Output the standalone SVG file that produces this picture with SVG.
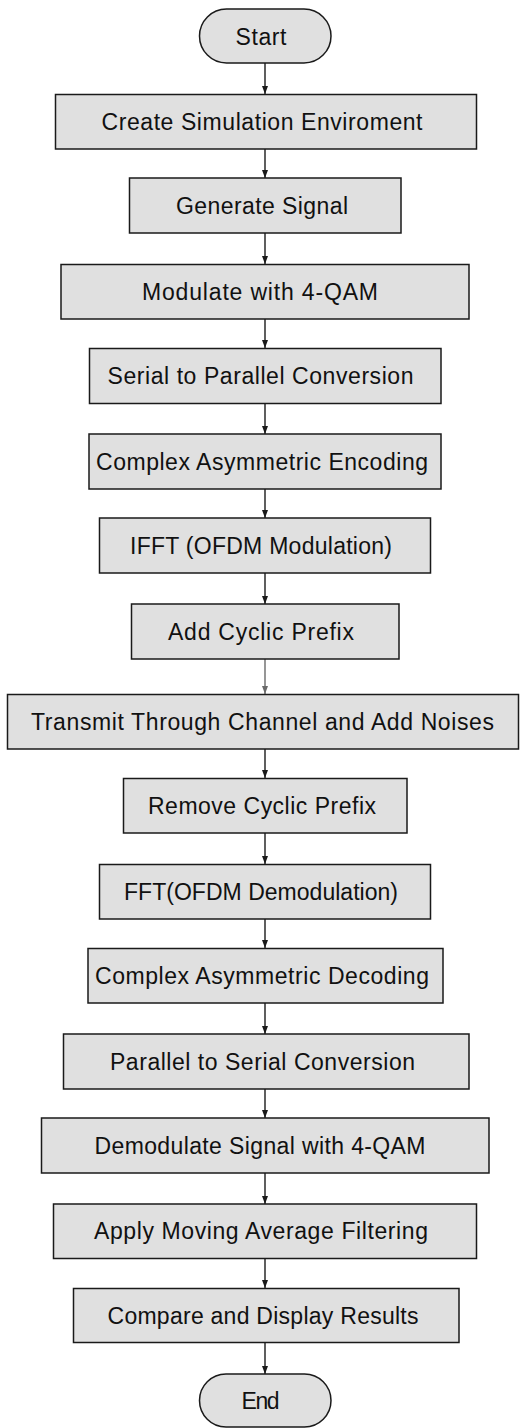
<svg xmlns="http://www.w3.org/2000/svg" width="520" height="1428" viewBox="0 0 520 1428">
<style>
.n{fill:#e0e0e0;stroke:#1a1a1a;stroke-width:1.5}
.t{font-family:"Liberation Sans",Arial,sans-serif;font-size:23px;fill:#111;text-anchor:middle;}
.c{stroke:#1a1a1a;stroke-width:1.4;fill:none;marker-end:url(#ah)}
.g{stroke:#6a6a6a;stroke-width:1.4;fill:none;marker-end:url(#ahg)}
</style>
<defs>
<marker id="ah" viewBox="0 0 8 8" refX="8" refY="4" markerWidth="8" markerHeight="8" markerUnits="userSpaceOnUse" orient="auto"><path d="M0,1 L8,4 L0,7 z" fill="#1a1a1a"/></marker>
<marker id="ahg" viewBox="0 0 8 8" refX="8" refY="4" markerWidth="8" markerHeight="8" markerUnits="userSpaceOnUse" orient="auto"><path d="M0,1 L8,4 L0,7 z" fill="#6a6a6a"/></marker>
</defs>
<rect width="520" height="1428" fill="#fff"/>
<g id="connectors">
<line class="c" x1="265" y1="63" x2="265" y2="94"/>
<line class="c" x1="265" y1="149" x2="265" y2="178"/>
<line class="c" x1="265" y1="233" x2="265" y2="264"/>
<line class="c" x1="265" y1="319" x2="265" y2="348"/>
<line class="c" x1="265" y1="403" x2="265" y2="434"/>
<line class="c" x1="265" y1="489" x2="265" y2="518"/>
<line class="c" x1="265" y1="573" x2="265" y2="604"/>
<line class="g" x1="265" y1="659" x2="265" y2="694"/>
<line class="c" x1="265" y1="749" x2="265" y2="778"/>
<line class="c" x1="265" y1="833" x2="265" y2="864"/>
<line class="c" x1="265" y1="919" x2="265" y2="948"/>
<line class="c" x1="265" y1="1003" x2="265" y2="1034"/>
<line class="c" x1="265" y1="1089" x2="265" y2="1118"/>
<line class="c" x1="265" y1="1173" x2="265" y2="1204"/>
<line class="c" x1="265" y1="1258" x2="265" y2="1288"/>
<line class="c" x1="265" y1="1342" x2="265" y2="1374"/>
</g>
<g id="start"><rect class="n" x="199.5" y="9" width="131.5" height="54" rx="27" ry="27"/><text class="t" x="261" y="45" textLength="51" lengthAdjust="spacing">Start</text></g>
<g id="n1"><rect class="n" x="55.5" y="94.5" width="421" height="54.5"/><text class="t" x="262" y="129.5" textLength="321" lengthAdjust="spacing">Create Simulation Enviroment</text></g>
<g id="n2"><rect class="n" x="129.5" y="178" width="271.5" height="55"/><text class="t" x="262" y="213.5" textLength="172" lengthAdjust="spacing">Generate Signal</text></g>
<g id="n3"><rect class="n" x="61" y="264.5" width="408" height="54.5"/><text class="t" x="260" y="299.5" textLength="236" lengthAdjust="spacing">Modulate with 4-QAM</text></g>
<g id="n4"><rect class="n" x="89.5" y="348.5" width="351.5" height="55"/><text class="t" x="260.5" y="384" textLength="306" lengthAdjust="spacing">Serial to Parallel Conversion</text></g>
<g id="n5"><rect class="n" x="89" y="434" width="352" height="55"/><text class="t" x="262" y="469.5" textLength="332" lengthAdjust="spacing">Complex Asymmetric Encoding</text></g>
<g id="n6"><rect class="n" x="99.5" y="518" width="331" height="55"/><text class="t" x="261" y="553.5" textLength="262" lengthAdjust="spacing">IFFT (OFDM Modulation)</text></g>
<g id="n7"><rect class="n" x="131.5" y="604" width="267.5" height="55"/><text class="t" x="261" y="639.5" textLength="186" lengthAdjust="spacing">Add Cyclic Prefix</text></g>
<g id="n8"><rect class="n" x="7.5" y="694.5" width="511" height="54.5"/><text class="t" x="262.5" y="729.5" textLength="463" lengthAdjust="spacing">Transmit Through Channel and Add Noises</text></g>
<g id="n9"><rect class="n" x="123.5" y="778.5" width="283.5" height="54.5"/><text class="t" x="262" y="813.5" textLength="228" lengthAdjust="spacing">Remove Cyclic Prefix</text></g>
<g id="n10"><rect class="n" x="99.5" y="864.5" width="331" height="54.5"/><text class="t" x="261" y="899.5" textLength="274" lengthAdjust="spacing">FFT(OFDM Demodulation)</text></g>
<g id="n11"><rect class="n" x="88" y="948.5" width="355" height="54.5"/><text class="t" x="262" y="983.5" textLength="334" lengthAdjust="spacing">Complex Asymmetric Decoding</text></g>
<g id="n12"><rect class="n" x="63.5" y="1034" width="405.5" height="55"/><text class="t" x="262.5" y="1069.5" textLength="305" lengthAdjust="spacing">Parallel to Serial Conversion</text></g>
<g id="n13"><rect class="n" x="41.5" y="1118" width="447.5" height="55"/><text class="t" x="260" y="1153.5" textLength="331" lengthAdjust="spacing">Demodulate Signal with 4-QAM</text></g>
<g id="n14"><rect class="n" x="53.5" y="1204" width="423" height="54.5"/><text class="t" x="261" y="1239" textLength="334" lengthAdjust="spacing">Apply Moving Average Filtering</text></g>
<g id="n15"><rect class="n" x="73.5" y="1288.5" width="385.5" height="54"/><text class="t" x="263" y="1323.5" textLength="311" lengthAdjust="spacing">Compare and Display Results</text></g>
<g id="end"><rect class="n" x="199.5" y="1374" width="131.5" height="53" rx="26.5" ry="26.5"/><text class="t" x="260.5" y="1409" textLength="38" lengthAdjust="spacing">End</text></g>
</svg>
